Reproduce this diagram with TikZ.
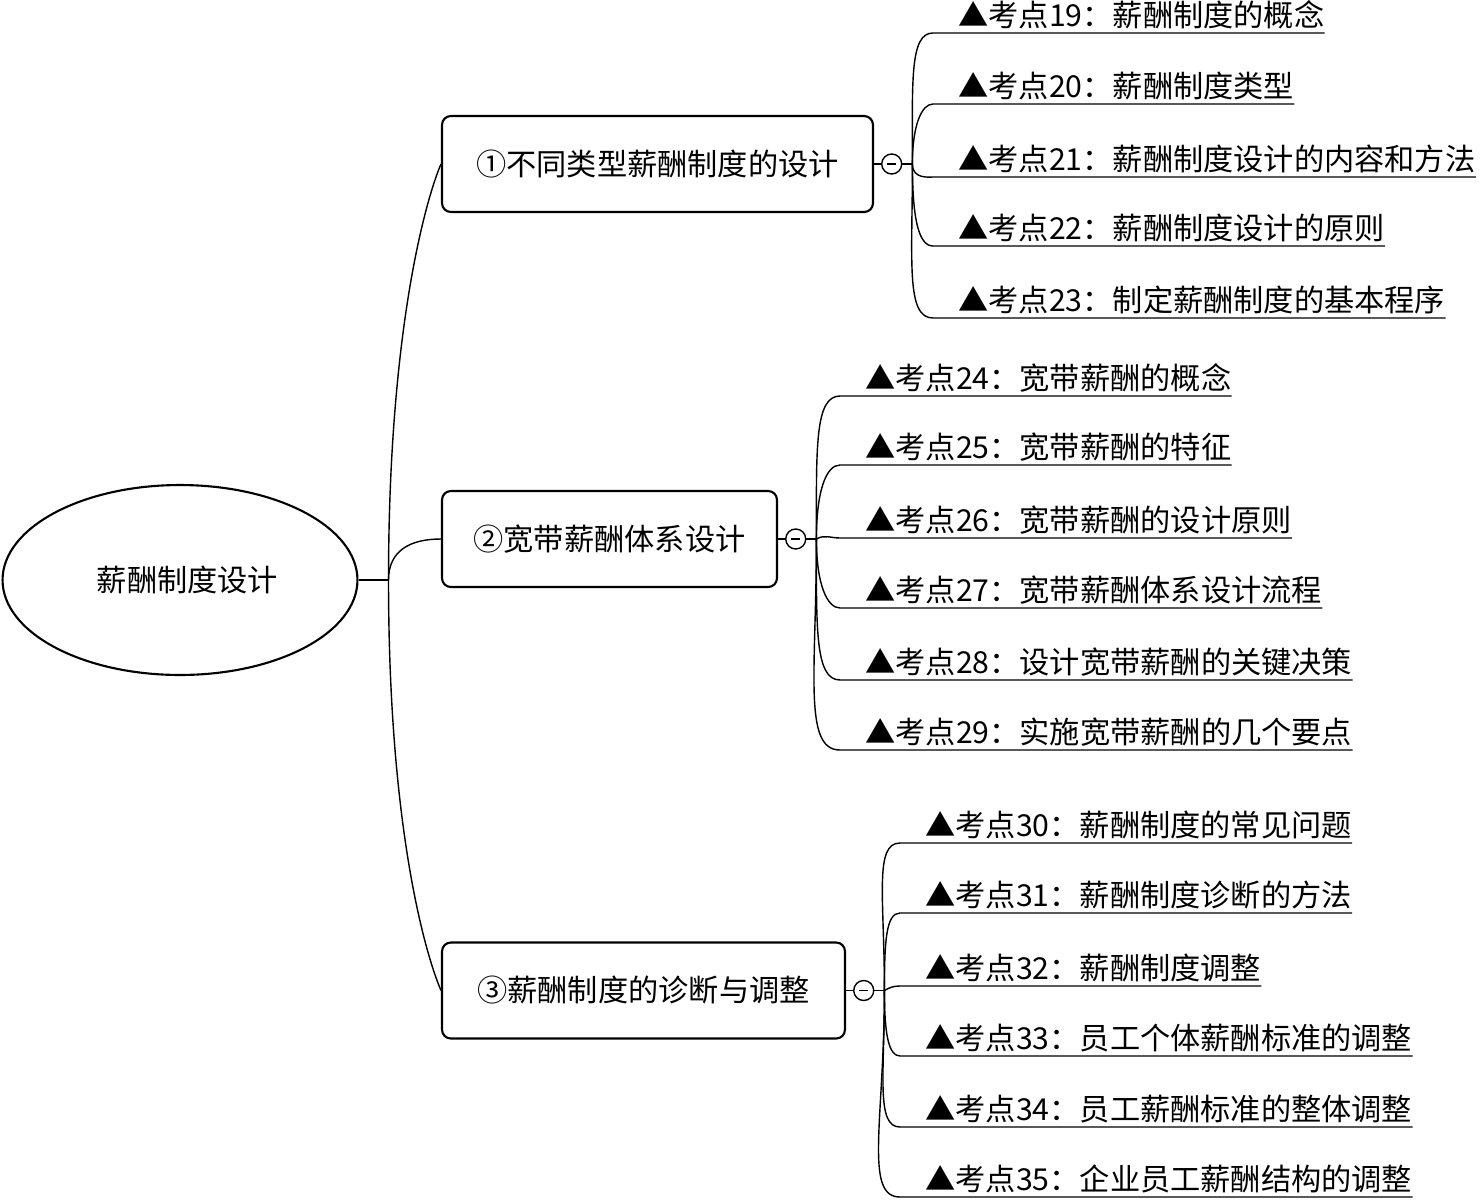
\documentclass[tikz,border=0pt]{standalone}
\usepackage{fontspec}
\setmainfont{Noto Sans CJK SC}
\usetikzlibrary{positioning,shapes.geometric}

\begin{document}
\begin{tikzpicture}[x=0.02cm, y=-0.02cm,
    every node/.style={font=\fontsize{17.2}{21}\selectfont},
    topic/.style={draw=black, rounded corners=5pt, line width=1.2pt, minimum height=1.92cm, align=center},
    fold/.style={draw=black, circle, line width=0.8pt, minimum size=0.4cm, inner sep=0pt,
        path picture={\draw[line width=0.9pt] ([xshift=0.11cm]path picture bounding box.west) -- ([xshift=-0.11cm]path picture bounding box.east);}},
    leaf/.style={anchor=south west, inner xsep=0pt, inner ysep=2pt, execute at begin node={\hspace*{0.5cm}}},
    link/.style={line width=0.8pt},
    twig/.style={in=180, out looseness=1.6, in looseness=0.45},
]
\useasboundingbox (0,0) rectangle (1480,1200);

% root and main topics
\node[draw=black, ellipse, line width=1.2pt, minimum width=7.1cm, minimum height=3.8cm] (root) at (180,580) {\hspace*{0.3cm}薪酬制度设计};
\coordinate[right=0.6cm of root] (r0);

\node[topic, minimum width=8.62cm] (b1) at (657.5,164) {①不同类型薪酬制度的设计};
\node[topic, minimum width=6.7cm] (b2) at (609.5,539) {②宽带薪酬体系设计};
\node[topic, minimum width=8.06cm] (b3) at (643.5,990.5) {③薪酬制度的诊断与调整};

\node[fold, right=0.14cm of b1] (f1) {};
\node[fold, right=0.14cm of b2] (f2) {};
\node[fold, right=0.14cm of b3] (f3) {};
\coordinate[right=0.2cm of f1] (h1);
\coordinate[right=0.2cm of f2] (h2);
\coordinate[right=0.2cm of f3] (h3);

\draw[link] (root) -- (r0);
\draw[link] (r0) .. controls +(0,-250) and +(-15,35) .. (b1.west);
\draw[link] (r0) .. controls +(0,-30) and +(-30,0) .. (b2.west);
\draw[link] (r0) .. controls +(0,250) and +(-15,-35) .. (b3.west);
\draw[link] (b1) -- (f1);
\draw[link] (f1) -- (h1);
\draw[link] (b2) -- (f2);
\draw[link] (f2) -- (h2);
\draw[link] (b3) -- (f3);
\draw[link] (f3) -- (h3);

% exam points
\node[leaf] (k19) at (933,33) {▲考点19：薪酬制度的概念};
\node[leaf] (k20) at (933,104) {▲考点20：薪酬制度类型};
\node[leaf] (k21) at (933,177) {▲考点21：薪酬制度设计的内容和方法};
\node[leaf] (k22) at (933,246) {▲考点22：薪酬制度设计的原则};
\node[leaf] (k23) at (933,318) {▲考点23：制定薪酬制度的基本程序};

\node[leaf] (k24) at (840,396) {▲考点24：宽带薪酬的概念};
\node[leaf] (k25) at (840,465) {▲考点25：宽带薪酬的特征};
\node[leaf] (k26) at (840,538) {▲考点26：宽带薪酬的设计原则};
\node[leaf] (k27) at (840,608) {▲考点27：宽带薪酬体系设计流程};
\node[leaf] (k28) at (840,680) {▲考点28：设计宽带薪酬的关键决策};
\node[leaf] (k29) at (840,750) {▲考点29：实施宽带薪酬的几个要点};

\node[leaf] (k30) at (900,843) {▲考点30：薪酬制度的常见问题};
\node[leaf] (k31) at (900,913) {▲考点31：薪酬制度诊断的方法};
\node[leaf] (k32) at (900,986) {▲考点32：薪酬制度调整};
\node[leaf] (k33) at (900,1056) {▲考点33：员工个体薪酬标准的调整};
\node[leaf] (k34) at (900,1127) {▲考点34：员工薪酬标准的整体调整};
\node[leaf] (k35) at (900,1197) {▲考点35：企业员工薪酬结构的调整};

\draw[link] (h1) to[twig, out=90] (k19.south west) -- (k19.south east);
\draw[link] (h1) to[twig, out=90] (k20.south west) -- (k20.south east);
\draw[link] (h1) to[twig, out=-90] (k21.south west) -- (k21.south east);
\draw[link] (h1) to[twig, out=-90] (k22.south west) -- (k22.south east);
\draw[link] (h1) to[twig, out=-90] (k23.south west) -- (k23.south east);

\draw[link] (h2) to[twig, out=90] (k24.south west) -- (k24.south east);
\draw[link] (h2) to[twig, out=90] (k25.south west) -- (k25.south east);
\draw[link] (h2) to[out=30, in=180] (k26.south west) -- (k26.south east);
\draw[link] (h2) to[twig, out=-90] (k27.south west) -- (k27.south east);
\draw[link] (h2) to[twig, out=-90] (k28.south west) -- (k28.south east);
\draw[link] (h2) to[twig, out=-90] (k29.south west) -- (k29.south east);

\draw[link] (h3) to[twig, out=90] (k30.south west) -- (k30.south east);
\draw[link] (h3) to[twig, out=90] (k31.south west) -- (k31.south east);
\draw[link] (h3) to[out=30, in=180] (k32.south west) -- (k32.south east);
\draw[link] (h3) to[twig, out=-90] (k33.south west) -- (k33.south east);
\draw[link] (h3) to[twig, out=-90] (k34.south west) -- (k34.south east);
\draw[link] (h3) to[twig, out=-90] (k35.south west) -- (k35.south east);

\end{tikzpicture}
\end{document}
